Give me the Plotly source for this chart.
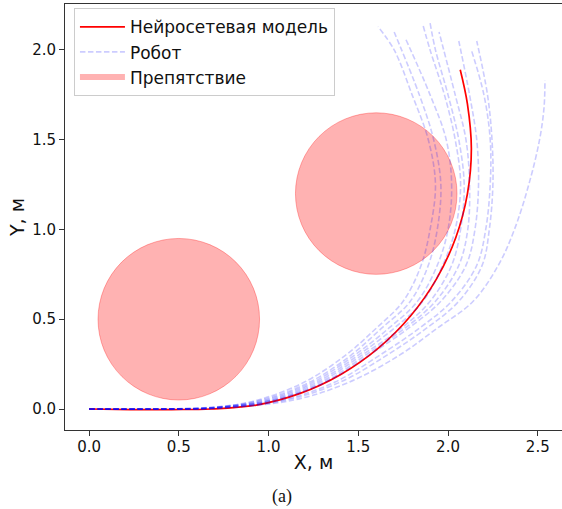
import plotly.graph_objects as go

# ---------------- data ----------------
red_x = [0.0, 0.23, 0.46, 0.68, 0.932, 1.176, 1.405, 1.612, 1.791, 1.936, 2.043, 2.108, 2.13, 2.108, 2.068]
red_y = [0.0, -0.003, -0.003, 0.0, 0.022, 0.087, 0.194, 0.339, 0.518, 0.725, 0.954, 1.198, 1.45, 1.70, 1.89]

# robot trajectories, inner -> outer
robot_x = [
    [0.0, 0.35, 0.70, 0.94, 1.20, 1.43, 1.60, 1.75, 1.85, 1.90, 1.93, 1.89, 1.80, 1.70, 1.61],
    [0.0, 0.35, 0.70, 0.96, 1.23, 1.46, 1.63, 1.79, 1.89, 1.94, 1.96, 1.92, 1.84, 1.70],
    [0.0, 0.35, 0.70, 0.98, 1.25, 1.48, 1.67, 1.83, 1.94, 2.00, 2.02, 1.99, 1.90, 1.76],
    [0.0, 0.35, 0.70, 1.00, 1.27, 1.50, 1.70, 1.86, 1.97, 2.04, 2.07, 2.04, 1.98, 1.90, 1.86],
    [0.0, 0.35, 0.70, 1.02, 1.29, 1.52, 1.74, 1.90, 2.02, 2.07, 2.09, 2.06, 2.00, 1.93, 1.90],
    [0.0, 0.35, 0.70, 1.03, 1.31, 1.54, 1.76, 1.93, 2.06, 2.11, 2.12, 2.10, 2.04, 1.95],
    [0.0, 0.35, 0.70, 1.04, 1.32, 1.56, 1.78, 1.96, 2.10, 2.15, 2.17, 2.16, 2.12, 2.06],
    [0.0, 0.35, 0.70, 1.08, 1.37, 1.62, 1.84, 2.02, 2.16, 2.21, 2.235, 2.235, 2.20, 2.13],
    [0.0, 0.35, 0.70, 1.10, 1.40, 1.66, 1.88, 2.06, 2.19, 2.23, 2.25, 2.245, 2.22, 2.16],
    [0.0, 0.35, 0.70, 1.14, 1.45, 1.73, 1.94, 2.14, 2.28, 2.37, 2.45, 2.51, 2.535, 2.54],
]
robot_y = [
    [0.0, 0.0, 0.011, 0.05, 0.15, 0.30, 0.45, 0.60, 0.80, 1.00, 1.25, 1.50, 1.75, 2.00, 2.13],
    [0.0, 0.0, 0.010, 0.05, 0.15, 0.30, 0.45, 0.60, 0.80, 1.00, 1.25, 1.50, 1.75, 2.10],
    [0.0, 0.0, 0.009, 0.05, 0.15, 0.30, 0.45, 0.60, 0.80, 1.00, 1.25, 1.50, 1.75, 2.07],
    [0.0, 0.0, 0.008, 0.05, 0.15, 0.30, 0.45, 0.60, 0.80, 1.00, 1.25, 1.50, 1.75, 2.00, 2.14],
    [0.0, 0.0, 0.007, 0.05, 0.15, 0.30, 0.45, 0.60, 0.80, 1.00, 1.25, 1.50, 1.75, 2.00, 2.15],
    [0.0, 0.0, 0.007, 0.05, 0.15, 0.30, 0.45, 0.60, 0.80, 1.00, 1.25, 1.50, 1.75, 2.10],
    [0.0, 0.0, 0.006, 0.05, 0.15, 0.30, 0.45, 0.60, 0.80, 1.00, 1.25, 1.50, 1.75, 2.05],
    [0.0, 0.0, 0.005, 0.05, 0.15, 0.30, 0.45, 0.60, 0.80, 1.00, 1.25, 1.50, 1.75, 2.00],
    [0.0, 0.0, 0.004, 0.05, 0.15, 0.30, 0.45, 0.60, 0.80, 1.00, 1.25, 1.50, 1.75, 2.05],
    [0.0, 0.0, 0.003, 0.05, 0.15, 0.30, 0.45, 0.60, 0.80, 1.00, 1.25, 1.50, 1.68, 1.83],
]

obstacle_cx = [0.5, 1.6]
obstacle_cy = [0.5, 1.2]
obstacle_r = [0.45, 0.45]

x_ticks = [0.0, 0.5, 1.0, 1.5, 2.0, 2.5]
y_ticks = [0.0, 0.5, 1.0, 1.5, 2.0]

labels = ["Нейросетевая модель", "Робот", "Препятствие"]

# ---------------- figure ----------------
FONT = "DejaVu Sans"
BLUE = "rgba(0,0,255,0.2)"
PINK = "rgba(255,0,0,0.3)"

fig = go.Figure()

fig.add_trace(go.Scatter(
    x=red_x, y=red_y, mode="lines", name=labels[0],
    line=dict(color="red", width=1.7, shape="spline", smoothing=1.0),
))

for i, (xs, ys) in enumerate(zip(robot_x, robot_y)):
    fig.add_trace(go.Scatter(
        x=xs, y=ys, mode="lines", name=labels[1],
        showlegend=(i == 0), legendgroup="robot",
        line=dict(color=BLUE, width=1.6, dash="5.5px,2.5px", shape="spline", smoothing=1.0),
    ))

# legend proxy for obstacles
fig.add_trace(go.Scatter(
    x=[None], y=[None], mode="none", fill="toself", fillcolor=PINK,
    name=labels[2],
))

for cx, cy, r in zip(obstacle_cx, obstacle_cy, obstacle_r):
    fig.add_shape(type="circle", xref="x", yref="y",
                  x0=cx - r, x1=cx + r, y0=cy - r, y1=cy + r,
                  fillcolor=PINK, line=dict(color=PINK, width=1), layer="below")

axis_common = dict(
    showgrid=False, zeroline=False, showline=True, linecolor="#333",
    linewidth=1, ticks="outside", ticklen=5, tickcolor="#333",
    tickfont=dict(family=FONT, size=15, color="#111"), automargin=False,
)

fig.update_layout(
    width=562, height=509,
    margin=dict(l=65, r=0, t=4, b=79),
    paper_bgcolor="white", plot_bgcolor="white",
    font=dict(family=FONT, color="#111"),
    showlegend=True,
    legend=dict(
        x=0.018, y=0.99, xanchor="left", yanchor="top",
        bgcolor="rgba(255,255,255,0.8)", bordercolor="#ccc", borderwidth=1,
        font=dict(family=FONT, size=17, color="#111"),
        itemwidth=45, tracegroupgap=0,
    ),
    xaxis=dict(
        range=[-0.134, 2.635], tickvals=x_ticks,
        ticktext=[f"{v:.1f}" for v in x_ticks], mirror=True,
        ticklabelstandoff=-2,
        title=dict(text="X, м", font=dict(family=FONT, size=19), standoff=0),
        **axis_common,
    ),
    yaxis=dict(
        range=[-0.117, 2.256], tickvals=y_ticks,
        ticktext=[f"{v:.1f}" for v in y_ticks], mirror=False,
        title=dict(text="Y, м", font=dict(family=FONT, size=19), standoff=2),
        **axis_common,
    ),
    annotations=[dict(
        text="(a)", xref="paper", yref="paper", x=0.4366, y=-0.155,
        xanchor="center", yanchor="middle", showarrow=False,
        font=dict(family="Liberation Serif", size=18, color="#111"),
    )],
)

fig.write_html("out.html", config={"displayModeBar": False},
               post_script="document.body.style.margin='0';")
